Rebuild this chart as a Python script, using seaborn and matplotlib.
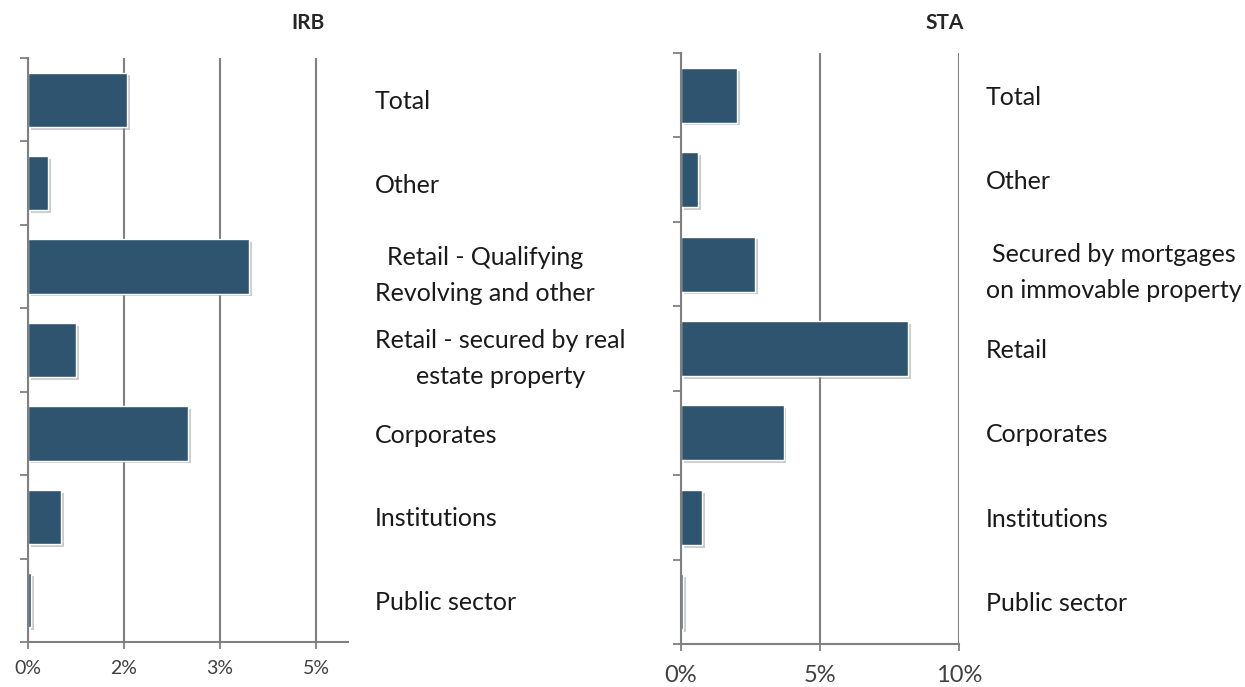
import matplotlib
matplotlib.use("Agg")
import matplotlib.pyplot as plt
import matplotlib.patheffects as pe
import pandas as pd
import seaborn as sns

# IRB panel
irb_labels = ["Total", "Other", "Retail - Qualifying\nRevolving and other",
              "Retail - secured by real\nestate property", "Corporates",
              "Institutions", "Public sector"]
irb_values = [1.55, 0.31, 3.45, 0.75, 2.50, 0.52, 0.05]
irb_ticks = [0, 1.5, 3.0, 4.5]
irb_ticklabels = ["0%", "2%", "3%", "5%"]

# STA panel
sta_labels = ["Total", "Other", "Secured by mortgages\non immovable property",
              "Retail", "Corporates", "Institutions", "Public sector"]
sta_values = [2.02, 0.62, 2.67, 8.16, 3.69, 0.75, 0.08]
sta_ticks = [0, 5, 10]
sta_ticklabels = ["0%", "5%", "10%"]

sns.set_theme(style="white")
plt.rcParams["font.family"] = ["Lato", "DejaVu Sans"]

bar_col = "#2F5470"
grid_col = "#808080"

fig = plt.figure(figsize=(12.45, 6.87), dpi=100)
ax1 = fig.add_axes([28/1245, 45/687, 320/1245, 584/687])
ax2 = fig.add_axes([681/1245, 43/687, 278/1245, 591/687])


def panel(ax, labels, values, xmax, ticks, ticklabels, ticksize, xpad):
    df = pd.DataFrame({"cat": labels, "val": values})
    sns.barplot(data=df, y="cat", x="val", orient="h", color=bar_col,
                saturation=1, width=0.65, ax=ax, edgecolor="white", linewidth=1.0)
    for p in ax.patches:
        p.set_path_effects([pe.SimplePatchShadow(offset=(2, -2), shadow_rgbFace="#999999", alpha=0.5),
                            pe.Normal()])
    ax.set_xlim(0, xmax)
    ax.set_ylim(len(labels) - 0.5, -0.5)
    ax.set_xticks(ticks)
    ax.set_xticklabels(ticklabels)
    ax.xaxis.grid(True, color=grid_col, linewidth=1.5)
    ax.set_axisbelow(True)
    ax.set_xlabel("")
    ax.set_ylabel("")
    for s in ["top", "right"]:
        ax.spines[s].set_visible(False)
    for s in ["left", "bottom"]:
        ax.spines[s].set_color(grid_col)
        ax.spines[s].set_linewidth(1.5)
    # category labels on the right side
    ax.tick_params(axis="y", which="major", left=False, right=False,
                   labelleft=False, labelright=True, pad=13.5, labelsize=18,
                   labelcolor="#1a1a1a")
    for lbl in ax.get_yticklabels():
        lbl.set_multialignment("center")
        lbl.set_linespacing(1.7)
    # boundary ticks on the left
    ax.set_yticks([i - 0.5 for i in range(len(labels) + 1)], minor=True)
    ax.tick_params(axis="y", which="minor", left=True, length=6, width=1.3, color=grid_col)
    ax.tick_params(axis="x", which="major", bottom=True, length=5, width=1.3,
                   color=grid_col, labelsize=ticksize, labelcolor="#404040", pad=xpad)


panel(ax1, irb_labels, irb_values, 5.0, irb_ticks, irb_ticklabels, 14, 8)
panel(ax2, sta_labels, sta_values, 10.0, sta_ticks, sta_ticklabels, 17, 10)

fig.text(308/1245, 1 - 23/687, "IRB", ha="center", va="center", fontsize=15, fontweight="bold")
fig.text(945/1245, 1 - 23/687, "STA", ha="center", va="center", fontsize=15, fontweight="bold")

fig.savefig("out.png", dpi=100)
